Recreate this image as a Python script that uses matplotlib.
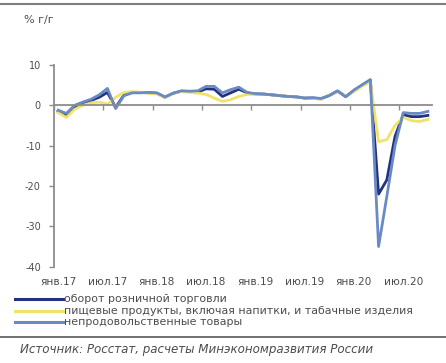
import matplotlib
matplotlib.use("Agg")
import matplotlib.pyplot as plt
from matplotlib.lines import Line2D
from matplotlib.transforms import blended_transform_factory
import numpy as np

plt.rcParams['font.family'] = ['DejaVu Sans']

# Monthly year-on-year growth, Jan 2017 - Oct 2020, % y/y
retail = [-1.5, -2.5, -0.5, 0.5, 1.2, 2.0, 3.2, -0.5, 2.5, 3.2, 3.2, 3.1,
          3.0, 2.0, 3.0, 3.5, 3.4, 3.3, 4.1, 4.0, 2.2, 3.1, 4.0, 3.1,
          2.8, 2.8, 2.6, 2.4, 2.2, 2.1, 1.8, 1.8, 1.6, 2.5, 3.5, 2.2,
          3.6, 5.0, 6.2, -22.0, -18.5, -7.7, -2.3, -2.8, -2.8, -2.5]
food = [-1.8, -3.0, -1.0, 0.0, 0.6, 0.8, 0.3, 2.0, 3.2, 3.4, 3.3, 3.0,
        2.8, 2.0, 3.0, 3.4, 3.2, 3.0, 2.7, 1.8, 1.0, 1.4, 2.2, 2.7,
        2.7, 2.8, 2.6, 2.4, 2.2, 2.1, 1.8, 1.7, 1.5, 2.6, 3.3, 2.3,
        3.4, 4.8, 5.8, -9.0, -8.5, -5.0, -3.0, -3.8, -4.0, -3.5]
nonfood = [-1.2, -2.0, 0.0, 0.8, 1.5, 2.6, 4.2, -0.8, 2.4, 3.1, 3.1, 3.2,
           3.1, 2.1, 3.0, 3.6, 3.5, 3.6, 4.7, 4.7, 3.1, 3.9, 4.5, 3.2,
           2.9, 2.8, 2.6, 2.4, 2.2, 2.1, 1.8, 1.9, 1.7, 2.4, 3.6, 2.1,
           3.8, 5.1, 6.4, -35.0, -22.6, -10.0, -1.8, -2.0, -2.0, -1.5]

tick_labels = ['янв.17', 'июл.17', 'янв.18', 'июл.18',
               'янв.19', 'июл.19', 'янв.20', 'июл.20']
series_names = ['оборот розничной торговли',
                'пищевые продукты, включая напитки, и табачные изделия',
                'непродовольственные товары']
colors = ['#24327F', '#EFE36A', '#6A8AC4']
text_color = '#4D4D4D'

W, H = 446, 363
fig = plt.figure(figsize=(W / 100, H / 100), dpi=100)
fig.patch.set_facecolor('white')

ax = fig.add_axes([54 / W, 1 - 266.7 / H, (432 - 54) / W, (266.7 - 65) / H])
x = np.arange(len(retail))
for vals, col, name in zip([retail, food, nonfood], colors, series_names):
    ax.plot(x, vals, color=col, lw=2.0, label=name, solid_joinstyle='round')

ax.set_xlim(-0.5, len(retail) - 0.5)
ax.set_ylim(-40, 10)
ax.set_yticks([10, 0, -10, -20, -30, -40])
ax.set_yticklabels(['10', '0', '-10', '-20', '-30', '-40'])
for s in ['top', 'right']:
    ax.spines[s].set_visible(False)
ax.spines['bottom'].set_position(('data', 0))
for s in ['left', 'bottom']:
    ax.spines[s].set_color('#8C8C8C')
    ax.spines[s].set_linewidth(1.3)
ax.set_xticks(np.arange(-0.5, len(retail), 6))
ax.tick_params(axis='x', direction='out', length=3.5, width=1.0,
               color='#8C8C8C', labelbottom=False)
ax.tick_params(axis='y', direction='out', length=3.5, width=1.0,
               color='#8C8C8C', labelsize=7, labelcolor=text_color, pad=6)

# month labels along the bottom of the plot
trans = blended_transform_factory(ax.transData, fig.transFigure)
for k, lab in enumerate(tick_labels):
    ax.text(k * 6, 1 - 282 / H, lab, transform=trans, ha='center', va='center',
            fontsize=7.6, color=text_color)

fig.text(24 / W, 1 - 20 / H, '% г/г', fontsize=8, color=text_color, va='center')

# legend rows: line sample followed by the series name
for row, (col, name) in enumerate(zip(colors, series_names)):
    yy = 1 - (299 + row * 11.6) / H
    fig.add_artist(Line2D([15 / W, 63 / W], [yy, yy], transform=fig.transFigure,
                          color=col, lw=2.2))
    fig.text(64 / W, yy, name, fontsize=7.9, color=text_color,
             va='center', ha='left')

fig.add_artist(Line2D([0, 1], [1 - 4 / H] * 2, transform=fig.transFigure,
                      color='#7F7F7F', lw=1.5))
fig.add_artist(Line2D([0, 1], [1 - 337 / H] * 2, transform=fig.transFigure,
                      color='#595959', lw=1.2))
fig.text(20 / W, 1 - 350 / H, 'Источник: Росстат, расчеты Минэкономразвития России',
         fontsize=8.6, style='italic', color=text_color, va='center')

fig.savefig('out.png', dpi=100)
